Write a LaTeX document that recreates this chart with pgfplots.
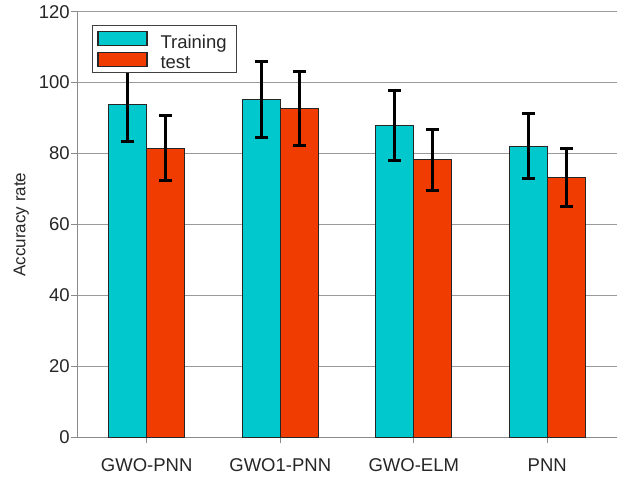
\documentclass[border=0pt]{standalone}
\usepackage{pgfplots}
\pgfplotsset{compat=1.18}
\usepackage{fontspec}
\setmainfont{Liberation Sans}
\definecolor{cyanbar}{HTML}{00C8CC}
\definecolor{redbar}{HTML}{F03C00}
\definecolor{gridgray}{HTML}{9A9A9A}
\begin{document}
\begin{tikzpicture}
\begin{axis}[
  scale only axis,
  width=539.4bp, height=425.6bp,
  xmin=-0.52, xmax=3.52,
  ymin=0, ymax=120,
  ytick={0,20,...,120},
  xtick={0,1,2,3},
  xticklabels={GWO-PNN,GWO1-PNN,GWO-ELM,PNN},
  axis lines*=left,
  axis line style={gridgray!90!black, line width=1.3bp, -},
  ymajorgrids,
  grid style={gridgray, line width=1.3bp},
  tick style={gridgray!90!black, line width=1.3bp},
  tick align=outside,
  major tick length=6bp,
  /pgf/number format/assume math mode=true,
  yticklabel style={font=\fontsize{18.5bp}{21bp}\selectfont, xshift=2bp, text=black!85},
  xticklabel style={font=\fontsize{18.5bp}{21bp}\selectfont, yshift=-11.5bp, text=black!85},
  ylabel={Accuracy rate},
  every axis y label/.style={at={(axis description cs:0,0.5)}, xshift=-56bp, rotate=90, anchor=center,
    font=\fontsize{17bp}{20bp}\selectfont, text=black!85},
  ybar=0pt,
  bar width=38bp,
  legend style={at={(0.0267,0.9687)}, anchor=north west, draw=black!75, line width=1.2bp,
    font=\fontsize{18.5bp}{21bp}\selectfont, row sep=0bp, column sep=0bp,
    inner xsep=5bp, inner ysep=2.5bp,
    nodes={inner xsep=5bp, inner ysep=0bp, yshift=-4bp, text=black!85}},
  legend cell align=left,
  legend image code/.code={\path[draw=none, fill=none] (0bp,-10bp) rectangle (57.6bp,10bp);
    \path[#1, draw=black!85, line width=1.2bp] (0bp,-7bp) rectangle (49bp,7bp);},
  legend entries={Training, test},
]
\addplot+[fill=cyanbar, draw=black!85, line width=1bp,
  error bars/.cd, y dir=both, y explicit,
  error bar style={black, line width=3bp},
  error mark options={rotate=90, mark size=6.5bp, line width=3bp, black}]
  coordinates {
  (0,93.9) +- (0,10.5)
  (1,95.2) +- (0,10.7)
  (2,88.0) +- (0,9.9)
  (3,82.1) +- (0,9.2)
  };
\addplot+[fill=redbar, draw=black!85, line width=1bp,
  error bars/.cd, y dir=both, y explicit,
  error bar style={black, line width=3bp},
  error mark options={rotate=90, mark size=6.5bp, line width=3bp, black}]
  coordinates {
  (0,81.5) +- (0,9.1)
  (1,92.7) +- (0,10.3)
  (2,78.2) +- (0,8.7)
  (3,73.2) +- (0,8.1)
  };
\end{axis}
\path[use as bounding box] (-77.3bp,-40.7bp) rectangle (544.7bp,437.3bp);
\end{tikzpicture}
\end{document}
